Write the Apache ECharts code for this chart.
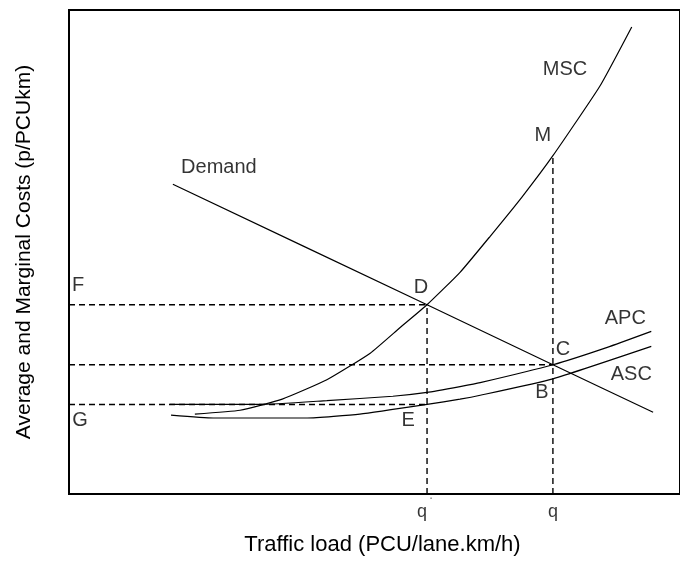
<!DOCTYPE html>
<html><head><meta charset="utf-8">
<script src="https://cdn.jsdelivr.net/npm/echarts@6/dist/echarts.min.js"></script>
<style>html,body{margin:0;padding:0;background:#fff;overflow:hidden}#c{width:680px;height:561px}</style>
</head><body><div id="c"></div>
<script>
// ---- data (schematic units, 0..100 on both axes) ----
const demandX = [17.0, 58.6, 79.2, 95.6];
const demandY = [64.0, 39.1, 26.7, 16.9];
const mscX = [20.6, 28.0, 34.9, 42.2, 49.3, 54.2, 58.6, 64.0, 68.9, 74.1, 79.2, 86.9, 92.1];
const mscY = [16.5, 17.3, 19.6, 23.6, 29.1, 34.4, 39.1, 45.8, 53.2, 61.3, 69.9, 84.3, 96.5];
const apcX = [16.5, 31.3, 42.2, 53.0, 58.6, 64.0, 67.3, 79.2, 88.1, 95.3];
const apcY = [18.5, 18.5, 19.3, 20.2, 21.0, 22.2, 23.0, 26.7, 30.3, 33.6];
const ascX = [16.7, 23.6, 39.0, 47.6, 58.6, 64.0, 67.3, 79.2, 95.3];
const ascY = [16.3, 15.7, 15.7, 16.5, 18.5, 19.6, 20.4, 23.8, 30.5];
const qPrime = 58.6, qOpt = 79.2;
const priceD = 39.1, priceC = 26.7, costE = 18.5, costB = 23.8, costM = 69.9;
const curveNames = ['Demand', 'MSC', 'APC', 'ASC'];
const pointNames = ['D', 'C', 'B', 'E', 'M', 'F', 'G'];
const xTickLabels = ['q', 'q'];

const zip = (xs, ys) => xs.map((x, i) => [x, ys[i]]);
const FONT = 'Liberation Sans, Arial, sans-serif';
const black = '#000';

const curveStyle = { color: black, width: 1.2 };
const dashStyle = { color: black, width: 1.4, type: [6, 4] };

function curve(name, data) {
  return { name, type: 'line', data, symbol: 'none', smooth: 0.15, lineStyle: curveStyle, silent: true, z: 3 };
}
function guide(data) {
  return { type: 'line', data, symbol: 'none', lineStyle: dashStyle, silent: true, z: 2 };
}

function lbl(value, text, offset, size, color) {
  return { value, label: { show: true, position: 'inside', formatter: text, offset,
    fontFamily: FONT, fontSize: size || 20, color: color || black } };
}
const last = (xs, ys) => [xs[xs.length - 1], ys[ys.length - 1]];

const labelData = [
  lbl([demandX[0], demandY[0]], curveNames[0], [46, -17]),
  lbl([mscX[11], mscY[11]], curveNames[1], [-35, -17]),
  lbl(last(apcX, apcY), curveNames[2], [-26, -13]),
  lbl(last(ascX, ascY), curveNames[3], [-20, 28]),
  lbl([qPrime, priceD], pointNames[0], [-6, -17]),
  lbl([qOpt, priceC], pointNames[1], [10, -15]),
  lbl([qOpt, costB], pointNames[2], [-11, 14]),
  lbl([qPrime, costE], pointNames[3], [-19, 16]),
  lbl([qOpt, costM], pointNames[4], [-10, -20]),
  lbl([0, priceD], pointNames[5], [9, -19]),
  lbl([0, costE], pointNames[6], [11, 16]),
  lbl([qPrime, 0], xTickLabels[0], [-5, 18], 18),
  lbl([qPrime, 0], '\u00B7', [4, 4], 14, '#666'),
  lbl([qOpt, 0], xTickLabels[1], [0, 18], 18)
];

const option = {
  backgroundColor: '#fff',
  animation: false,
  grid: { left: 69, right: -1, top: 10, bottom: 60, show: true, borderColor: black, borderWidth: 2, containLabel: false },
  xAxis: {
    type: 'value', min: 0, max: 100,
    name: 'Traffic load (PCU/lane.km/h)', nameLocation: 'middle', nameGap: 40,
    nameTextStyle: { fontFamily: FONT, fontSize: 22, color: black, padding: [0, 0, 0, 16] },
    axisLine: { show: false }, axisTick: { show: false }, axisLabel: { show: false }, splitLine: { show: false }
  },
  yAxis: {
    type: 'value', min: 0, max: 100,
    name: 'Average and Marginal Costs (p/PCUkm)', nameLocation: 'middle', nameGap: 34,
    nameTextStyle: { fontFamily: FONT, fontSize: 21, color: black },
    axisLine: { show: false }, axisTick: { show: false }, axisLabel: { show: false }, splitLine: { show: false }
  },
  series: [
    curve(curveNames[0], zip(demandX, demandY)),
    curve(curveNames[1], zip(mscX, mscY)),
    curve(curveNames[2], zip(apcX, apcY)),
    curve(curveNames[3], zip(ascX, ascY)),
    guide([[0, priceD], [qPrime, priceD]]),
    guide([[0, priceC], [qOpt, priceC]]),
    guide([[0, costE], [qPrime, costE]]),
    guide([[qPrime, 0], [qPrime, priceD]]),
    guide([[qOpt, 0], [qOpt, costM]]),
    { type: 'scatter', data: labelData, symbolSize: 1, itemStyle: { color: 'rgba(0,0,0,0)' }, clip: false, silent: true, z: 5 }
  ]
};
const chart = echarts.init(document.getElementById('c'), null, { renderer: 'canvas' });
chart.setOption(option);
</script></body></html>
